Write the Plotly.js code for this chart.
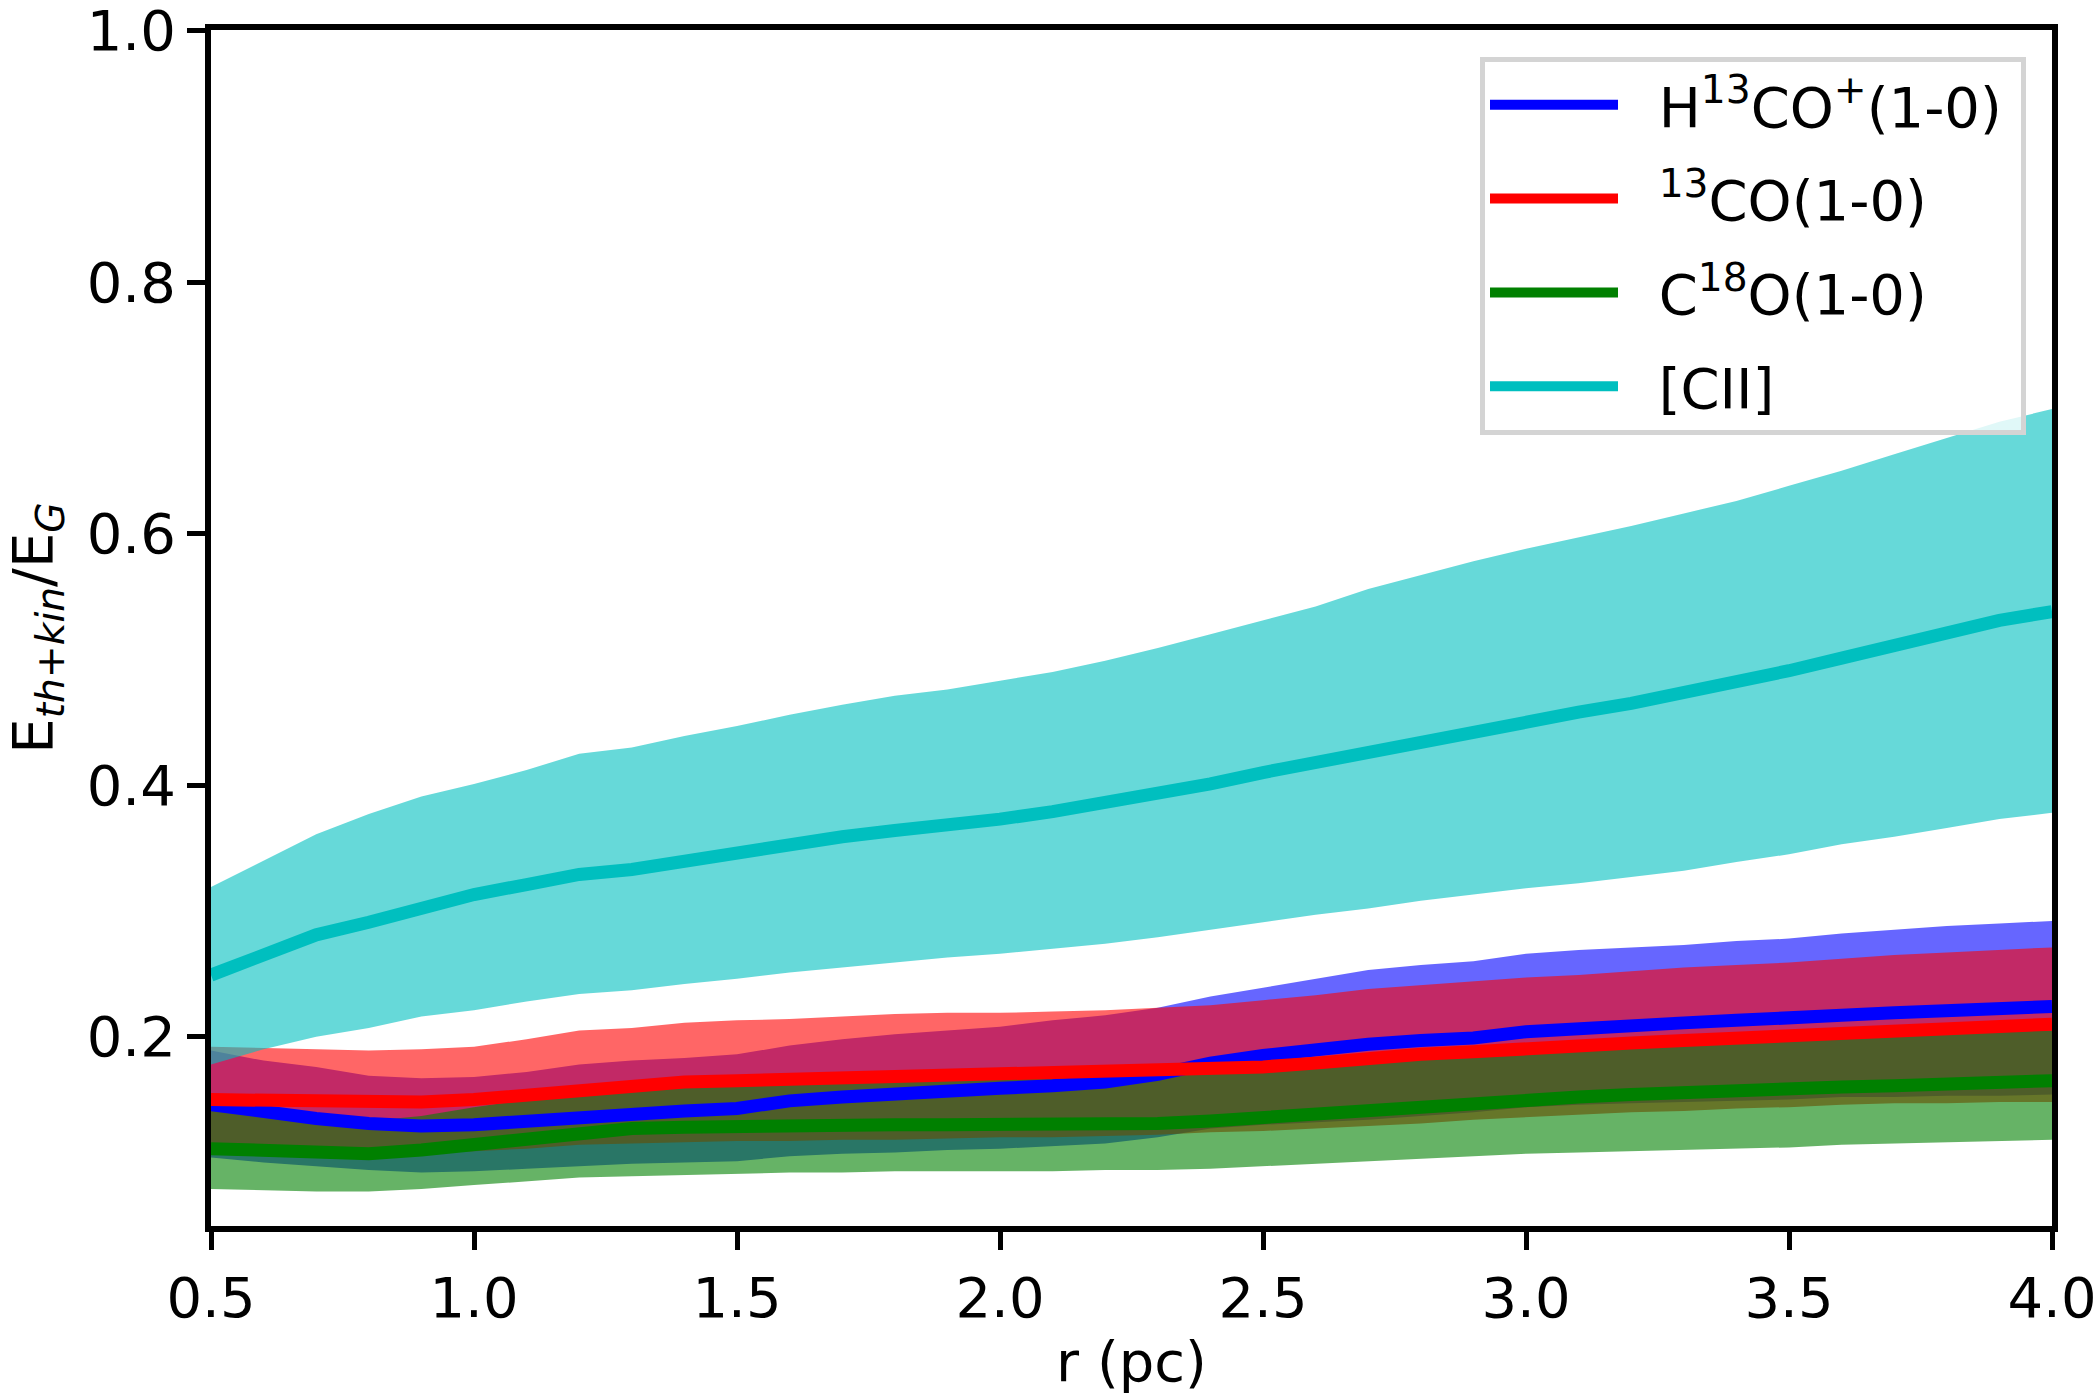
<!DOCTYPE html>
<html>
<head>
<meta charset="utf-8">
<script src="https://cdn.plot.ly/plotly-3.0.1.min.js"></script>
<style>
  html, body { margin: 0; padding: 0; background: #fff; }
  #chart { width: 2100px; height: 1394px; }
</style>
</head>
<body>
<div id="chart"></div>
<script>
// radius (pc)
var r_pc = [0.5, 0.6, 0.7, 0.8, 0.9, 1.0, 1.1, 1.2, 1.3, 1.4, 1.5, 1.6, 1.7, 1.8, 1.9, 2.0, 2.1, 2.2,
            2.3, 2.4, 2.5, 2.6, 2.7, 2.8, 2.9, 3.0, 3.1, 3.2, 3.3, 3.4, 3.5, 3.6, 3.7, 3.8, 3.9, 4.0];

// H13CO+(1-0)
var h13co_mid = [0.146,0.140,0.135,0.131,0.129,0.130,0.133,0.137,0.140,0.141,0.143,0.149,0.152,0.155,0.157,0.159,0.161,0.164,
                 0.170,0.179,0.185,0.190,0.194,0.197,0.199,0.204,0.207,0.209,0.211,0.213,0.214,0.217,0.219,0.221,0.222,0.224];
var h13co_hi  = [0.189,0.181,0.176,0.169,0.167,0.168,0.172,0.178,0.181,0.183,0.186,0.193,0.198,0.202,0.205,0.208,0.213,0.217,
                 0.223,0.232,0.239,0.246,0.253,0.257,0.260,0.266,0.269,0.271,0.273,0.276,0.278,0.282,0.285,0.288,0.290,0.292];
var h13co_lo  = [0.104,0.100,0.097,0.094,0.092,0.093,0.095,0.097,0.099,0.100,0.101,0.105,0.107,0.108,0.110,0.111,0.113,0.115,
                 0.120,0.127,0.130,0.132,0.134,0.137,0.140,0.144,0.146,0.147,0.148,0.149,0.150,0.152,0.152,0.153,0.153,0.154];

// 13CO(1-0)
var co13_mid = [0.150,0.149,0.148,0.147,0.148,0.150,0.154,0.158,0.160,0.164,0.165,0.166,0.168,0.169,0.170,0.170,0.170,0.171,
                0.172,0.174,0.176,0.179,0.183,0.186,0.188,0.191,0.193,0.195,0.197,0.199,0.201,0.204,0.206,0.207,0.208,0.210];
var co13_hi  = [0.192,0.191,0.190,0.189,0.190,0.192,0.198,0.205,0.207,0.211,0.213,0.214,0.216,0.218,0.219,0.219,0.220,0.221,
                0.223,0.225,0.229,0.233,0.238,0.241,0.244,0.247,0.249,0.252,0.255,0.257,0.259,0.262,0.265,0.267,0.269,0.271];
var co13_lo  = [0.112,0.110,0.108,0.107,0.107,0.109,0.111,0.114,0.115,0.116,0.117,0.117,0.118,0.118,0.119,0.120,0.120,0.121,
                0.122,0.124,0.125,0.127,0.129,0.131,0.134,0.136,0.138,0.140,0.141,0.143,0.144,0.146,0.147,0.147,0.148,0.148];

// C18O(1-0)
var c18o_mid = [0.111,0.109,0.107,0.107,0.110,0.114,0.119,0.124,0.127,0.128,0.129,0.130,0.130,0.130,0.130,0.130,0.130,0.130,
                0.131,0.133,0.136,0.139,0.141,0.144,0.147,0.150,0.152,0.154,0.156,0.157,0.158,0.160,0.161,0.162,0.164,0.165];
var c18o_hi  = [0.145,0.140,0.136,0.133,0.137,0.144,0.150,0.155,0.158,0.161,0.162,0.163,0.165,0.166,0.167,0.167,0.167,0.168,
                0.169,0.171,0.173,0.176,0.180,0.183,0.185,0.188,0.190,0.192,0.194,0.196,0.198,0.201,0.202,0.203,0.204,0.205];
var c18o_lo  = [0.079,0.078,0.077,0.077,0.079,0.082,0.085,0.088,0.089,0.090,0.091,0.092,0.092,0.093,0.093,0.093,0.093,0.094,
                0.094,0.095,0.097,0.099,0.101,0.103,0.105,0.107,0.108,0.109,0.110,0.111,0.112,0.114,0.115,0.116,0.117,0.118];

// [CII]
var cii_mid = [0.249,0.265,0.281,0.291,0.303,0.313,0.321,0.329,0.333,0.340,0.346,0.353,0.359,0.364,0.368,0.373,0.379,0.386,
               0.393,0.401,0.410,0.418,0.426,0.435,0.444,0.451,0.458,0.465,0.473,0.482,0.491,0.501,0.511,0.521,0.531,0.538];
var cii_hi  = [0.319,0.340,0.361,0.377,0.391,0.401,0.412,0.425,0.430,0.439,0.447,0.456,0.464,0.471,0.476,0.483,0.490,0.499,
               0.509,0.520,0.531,0.542,0.556,0.567,0.578,0.588,0.597,0.606,0.616,0.626,0.638,0.650,0.663,0.676,0.689,0.699];
var cii_lo  = [0.178,0.190,0.200,0.207,0.216,0.221,0.228,0.234,0.237,0.242,0.246,0.251,0.255,0.259,0.263,0.266,0.270,0.274,
               0.279,0.285,0.291,0.297,0.302,0.308,0.313,0.318,0.322,0.327,0.332,0.339,0.345,0.353,0.359,0.366,0.373,0.378];

var x_ticks = [0.5, 1.0, 1.5, 2.0, 2.5, 3.0, 3.5, 4.0];
var y_ticks = [0.2, 0.4, 0.6, 0.8, 1.0];

var species = [
    {name: "H<sup>13</sup>CO<sup>+</sup>(1-0)", color: "#0000ff", fill: "rgba(0,0,255,0.6)",   mid: h13co_mid, lo: h13co_lo, hi: h13co_hi},
    {name: "<sup>13</sup>CO(1-0)",              color: "#ff0000", fill: "rgba(255,0,0,0.6)",   mid: co13_mid,  lo: co13_lo,  hi: co13_hi},
    {name: "C<sup>18</sup>O(1-0)",              color: "#008000", fill: "rgba(0,128,0,0.6)",   mid: c18o_mid,  lo: c18o_lo,  hi: c18o_hi},
    {name: "[CII]",                             color: "#00bfbf", fill: "rgba(0,191,191,0.6)", mid: cii_mid,   lo: cii_lo,   hi: cii_hi}
];

// spacing around legend labels (gap after the line, room before the frame)
var pad_l = "\u2007";
var pad_r = "\u2005";

var traces = [];
// bands first, all of them
for (var s of species) {
    traces.push({x: r_pc, y: s.lo, mode: "lines", line: {width: 0, color: s.color},
                 showlegend: false, hoverinfo: "skip"});
    traces.push({x: r_pc, y: s.hi, mode: "lines", line: {width: 0, color: s.color},
                 fill: "tonexty", fillcolor: s.fill, showlegend: false, hoverinfo: "skip"});
}
// then the lines on top
for (var i = 0; i < species.length; i++) {
    var s = species[i];
    traces.push({x: r_pc, y: s.mid, mode: "lines", name: pad_l + s.name + pad_r, legendgroup: "g" + i,
                 line: {width: 13, color: s.color}});
}

var font = {family: "DejaVu Sans, sans-serif", size: 56, color: "#000"};

var layout = {
    width: 2100,
    height: 1394,
    margin: {l: 211, r: 48, t: 30, b: 168},
    paper_bgcolor: "#fff",
    plot_bgcolor: "#fff",
    font: font,
    showlegend: true,
    legend: {
        x: 0.6893, y: 0.9775, xanchor: "left", yanchor: "top",
        traceorder: "grouped",
        tracegroupgap: 18,
        bgcolor: "rgba(255,255,255,0.8)",
        bordercolor: "#d4d4d4",
        borderwidth: 5,
        font: font,
        itemwidth: 128
    },
    xaxis: {
        range: [0.5, 4.0],
        tickvals: x_ticks,
        tickformat: ".1f",
        showgrid: false, zeroline: false,
        showline: true, mirror: true, linecolor: "#000", linewidth: 6,
        ticks: "outside", ticklen: 18, tickwidth: 5, tickcolor: "#000",
        ticklabeloverflow: "allow",
        tickfont: font,
        title: {text: "r (pc)", font: font, standoff: 20}
    },
    yaxis: {
        range: [0.0495, 1.0004],
        tickvals: y_ticks,
        tickformat: ".1f",
        showgrid: false, zeroline: false,
        showline: true, mirror: true, linecolor: "#000", linewidth: 6,
        ticks: "outside", ticklen: 18, tickwidth: 5, tickcolor: "#000",
        ticklabeloverflow: "allow",
        tickfont: font,
        title: {text: "E<sub><i>th+kin</i></sub>/E<sub><i>G</i></sub>", font: font, standoff: 20}
    }
};

Plotly.newPlot("chart", traces, layout, {staticPlot: true, responsive: false});
</script>
</body>
</html>
